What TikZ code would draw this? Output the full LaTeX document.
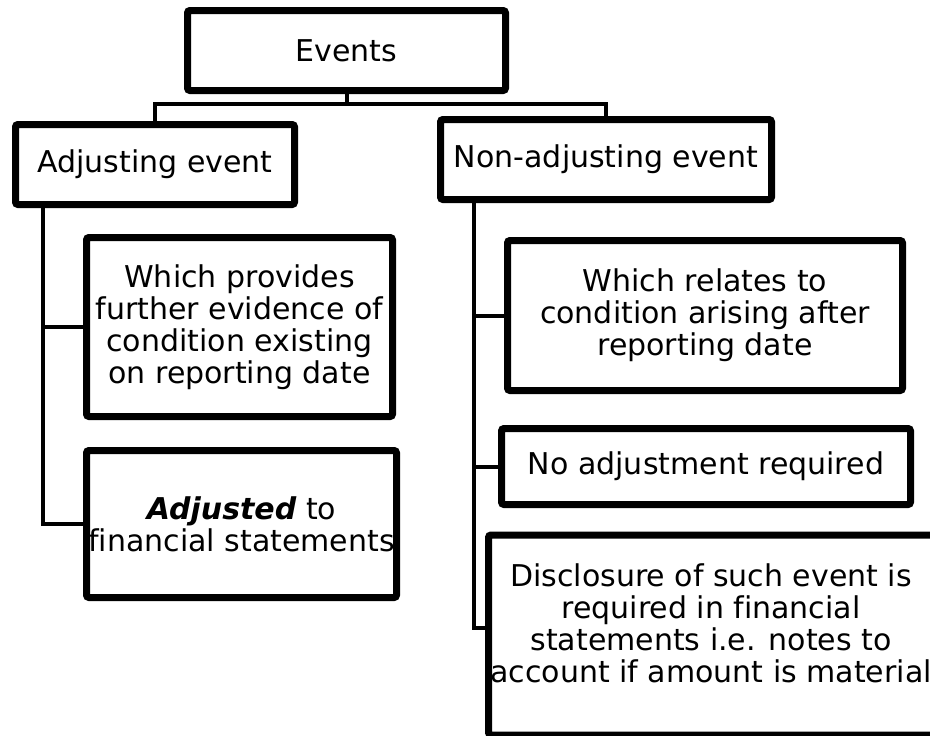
\documentclass[tikz,border=0pt]{standalone}
\usepackage{fontspec}
\setmainfont[Ligatures={NoCommon}]{DejaVu Sans}
\usetikzlibrary{shadows}
\begin{document}
\begin{tikzpicture}[x=1pt,y=-1pt,
  box/.style={draw=black, line width=7pt, rounded corners=2.5pt, fill=white,
    align=center, inner sep=0pt, font=\fontsize{30}{32}\selectfont,
    drop shadow={opacity=0.25, shadow xshift=2pt, shadow yshift=-3pt}},
  link/.style={line width=4pt}]
\useasboundingbox (0,0) rectangle (930,736);
\clip (0,0) rectangle (930,736);
\fill[white] (0,0) rectangle (930,736);

\node[box, minimum width=318pt, minimum height=80pt] (ev) at (346.5,50.5) {Events};
\node[box, minimum width=279pt, minimum height=80pt] (adj) at (155,164.5) {Adjusting event};
\node[box, minimum width=331pt, minimum height=80pt] (nadj) at (606,159.5) {Non-adjusting event};

\node[box, minimum width=306pt, minimum height=179pt] (wp) at (239.5,327)
  {Which provides\\further evidence of\\condition existing\\on reporting date};
\node[box, minimum width=310pt, minimum height=147pt] (adjd) at (241.5,524)
  {\textbf{\textit{Adjusted}} to\\financial statements};

\node[box, minimum width=395pt, minimum height=150pt] (wr) at (705,315.5)
  {Which relates to\\condition arising after\\reporting date};
\node[box, minimum width=409pt, minimum height=76pt] (na) at (706,466.5)
  {No adjustment required};
\node[box, minimum width=445pt, minimum height=200pt, text depth=23pt] (disc) at (711,635)
  {Disclosure of such event is\\required in financial\\statements i.e. notes to\\account if amount is material};

\coordinate (mid) at (347,104);
\coordinate (ls) at (43,0);
\coordinate (rs) at (474,0);
\coordinate (dy) at (0,628);
\coordinate (dl) at (disc.west |- dy);

\draw[link] (ev.south) -- (ev.south |- mid) -| (adj.north);
\draw[link] (ev.south |- mid) -| (nadj.north);

\draw[link] (adj.south -| ls) |- (wp.west);
\draw[link] (adj.south -| ls) |- (adjd.west);

\draw[link] (nadj.south -| rs) |- (wr.west);
\draw[link] (nadj.south -| rs) |- (na.west);
\draw[link] (nadj.south -| rs) |- (dl);
\end{tikzpicture}
\end{document}
